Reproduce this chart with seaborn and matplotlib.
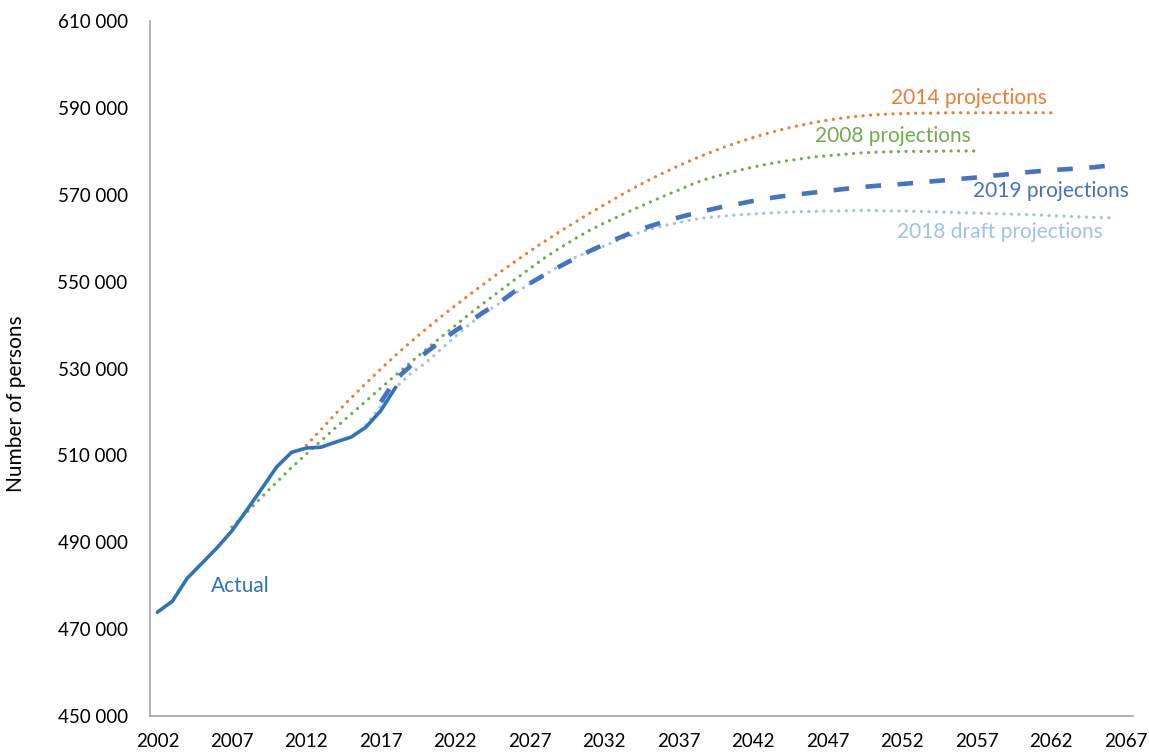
import matplotlib
matplotlib.use("Agg")
import matplotlib.pyplot as plt
import matplotlib.ticker as mticker
import numpy as np
import pandas as pd
import seaborn as sns

# ---- data ----
actual_years = list(range(2002, 2019))
actual_vals = [473900, 476400, 481700, 485200, 488700, 492600, 497400, 502300,
               507300, 510700, 511700, 511900, 513100, 514200, 516500, 520300, 525700]

p2008_years = list(range(2007, 2058))
p2008_vals = [493500, 496900, 500400, 503800, 507200, 510300, 513400, 516500, 519500, 522500,
              525500, 528500, 531400, 534300, 537100, 539900, 542700, 545300, 547900, 550500,
              553000, 555500, 557700, 559800, 561800, 563500, 565100, 566700, 568200, 569700,
              571100, 572600, 573800, 574700, 575600, 576400, 577100, 577700, 578200, 578700,
              579000, 579300, 579600, 579800, 579900, 580000, 580000, 580000, 580100, 580100,
              580100]

p2014_years = list(range(2012, 2063))
p2014_vals = [512300, 516000, 519700, 523200, 526600, 529900, 533100, 536100, 539000, 541800,
              544500, 547100, 549700, 552200, 554600, 557000, 559300, 561500, 563600, 565700,
              567700, 569700, 571600, 573400, 575100, 576700, 578200, 579600, 580900, 582100,
              583200, 584200, 585100, 585900, 586600, 587200, 587700, 588100, 588400, 588600,
              588700, 588800, 588800, 588900, 588900, 588900, 588900, 588900, 588900, 588900,
              588900]

p2018_years = list(range(2016, 2067))
p2018_vals = [517000, 521400, 525600, 528800, 531300, 534300, 537400, 540300, 542900, 545100,
              547300, 549500, 551600, 553600, 555500, 557000, 558200, 559700, 560900, 562000,
              562900, 563600, 564300, 564800, 565100, 565400, 565600, 565800, 566000, 566100,
              566200, 566300, 566300, 566400, 566400, 566300, 566300, 566200, 566100, 566000,
              565900, 565800, 565700, 565600, 565500, 565400, 565200, 565100, 564900, 564800,
              564700]

p2019_years = list(range(2017, 2067))
p2019_vals = [522300, 527500, 530600, 533600, 536200, 538700, 540900, 543200, 545300, 547800,
              549600, 551600, 553500, 555300, 557000, 558600, 560100, 561500, 562700, 563800,
              564800, 565700, 566500, 567300, 567900, 568600, 569200, 569700, 570100, 570500,
              570900, 571300, 571700, 572000, 572300, 572500, 572800, 573100, 573400, 573700,
              574000, 574400, 574700, 575100, 575400, 575700, 575900, 576100, 576400, 576800]

x_ticks = list(range(2002, 2068, 5))
y_ticks = list(range(450000, 610001, 20000))

# ---- style ----
sns.set_style("white")
plt.rcParams["font.family"] = ["Lato", "DejaVu Sans"]

c_actual = "#2E75B6"
c_2019 = "#4472C4"
c_2018 = "#9DC3E6"
c_2014 = "#ED7D31"
c_2008 = "#70AD47"

fig = plt.figure(figsize=(11.49, 7.55), dpi=100)
ax = fig.add_axes([0.1305, 0.0517, 0.8555, 0.9203])

def draw(years, vals, color, lw, ls, cap="butt"):
    df = pd.DataFrame({"year": years, "value": vals})
    sns.lineplot(data=df, x="year", y="value", ax=ax, color=color, lw=lw,
                 linestyle=ls, dash_capstyle=cap, solid_capstyle="round")

dot = (0, (0.05, 2.3))
draw(p2014_years, p2014_vals, c_2014, 2.3, dot, "round")
draw(p2008_years, p2008_vals, c_2008, 2.3, dot, "round")
draw(p2018_years, p2018_vals, c_2018, 2.3, dot, "round")
draw(p2019_years, p2019_vals, c_2019, 3.3, (0, (3.4, 3.6)), "butt")
draw(actual_years, actual_vals, c_actual, 2.6, "-")

ax.set_xlim(2001.5, 2067.5)
ax.set_ylim(450000, 610000)
ax.set_xticks(x_ticks)
ax.set_yticks(y_ticks)
ax.yaxis.set_major_formatter(mticker.FuncFormatter(lambda v, p: f"{int(v):,}".replace(",", " ")))
ax.tick_params(axis="both", length=0, labelsize=13.5, colors="black")
ax.tick_params(axis="x", pad=12)
ax.tick_params(axis="y", pad=16)
ax.set_xlabel("")
ax.set_ylabel("Number of persons", fontsize=15, color="black")
ax.yaxis.set_label_coords(-0.126, 0.449)

for s in ["top", "right"]:
    ax.spines[s].set_visible(False)
for s in ["left", "bottom"]:
    ax.spines[s].set_color("#A6A6A6")
    ax.spines[s].set_linewidth(1.2)

fs = 15
ax.text(2061.7, 592300, "2014 projections", color=c_2014, fontsize=fs, ha="right", va="center")
ax.text(2056.6, 583600, "2008 projections", color=c_2008, fontsize=fs, ha="right", va="center")
ax.text(2067.2, 570900, "2019 projections", color=c_2019, fontsize=fs, ha="right", va="center")
ax.text(2065.5, 561500, "2018 draft projections", color=c_2018, fontsize=fs, ha="right", va="center")
ax.text(2005.6, 479900, "Actual", color=c_actual, fontsize=fs, ha="left", va="center")

fig.savefig("out.png", dpi=100)
